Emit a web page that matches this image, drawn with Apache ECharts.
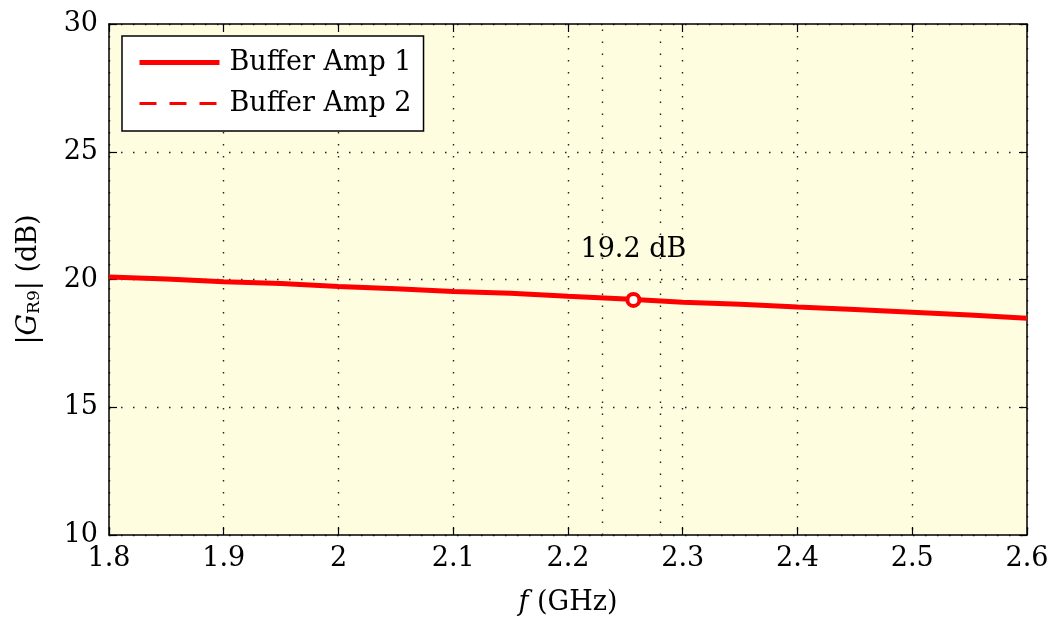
<!DOCTYPE html>
<html><head><meta charset="utf-8">
<script src="https://cdn.jsdelivr.net/npm/echarts@6/dist/echarts.min.js"></script>
<style>html,body{margin:0;padding:0;background:#fff}#c{width:1054px;height:621px}</style>
</head><body><div id="c"></div>
<script>
const freq = [1.80,1.85,1.90,1.95,2.00,2.05,2.10,2.15,2.20,2.25,2.30,2.35,2.40,2.45,2.50,2.55,2.60];
const amp1 = [20.10,20.02,19.91,19.84,19.73,19.64,19.53,19.46,19.34,19.24,19.11,19.03,18.92,18.83,18.72,18.61,18.48];
const amp2 = [20.09,20.03,19.92,19.83,19.74,19.65,19.54,19.45,19.35,19.25,19.12,19.04,18.93,18.84,18.73,18.62,18.49];
const marker = [2.257, 19.2];
const markerText = '19.2 dB';
const bandEdges = [2.2314, 2.2828];
const seriesNames = ['Buffer Amp 1', 'Buffer Amp 2'];

const FONT = '"DejaVu Serif", "Liberation Serif", serif';
const FS = 27;
const chart = echarts.init(document.getElementById('c'));
const pairs = (xs, ys) => xs.map((x, i) => [x, ys[i]]);
const grid = {left:109, right:27, top:24, bottom:86, backgroundColor:'#fffde0', show:true, borderWidth:0};
const dotted = {show:true, lineStyle:{color:'#222', width:1.4, type:[1.5, 10.5]}};

chart.setOption({
  animation:false,
  grid: grid,
  legend: {
    left:122, top:36, orient:'vertical', backgroundColor:'#fff', borderColor:'#000', borderWidth:1.5,
    padding:[13, 12, 14, 15], itemWidth:80, itemHeight:16, itemGap:14,
    itemStyle:{opacity:0},
    textStyle:{fontFamily:FONT, fontSize:FS, color:'#000', padding:[0,0,0,5]},
    data: [
      {name:seriesNames[0], lineStyle:{width:5, color:'#ff0000', type:'solid'}},
      {name:seriesNames[1], lineStyle:{width:3, color:'#ff0000', type:[17, 13]}}
    ]
  },
  xAxis: [{
    type:'value', min:1.8, max:2.6, interval:0.1,
    axisLine:{show:true, onZero:false, lineStyle:{color:'#000', width:1.5}},
    axisTick:{inside:true, length:8, lineStyle:{color:'#000', width:1.2}},
    axisLabel:{fontFamily:FONT, fontSize:FS, color:'#000', margin:10},
    splitLine: dotted,
    name:'{i|f} (GHz)', nameLocation:'middle', nameGap:54,
    nameTextStyle:{fontFamily:FONT, fontSize:FS, color:'#000', rich:{i:{fontFamily:FONT, fontStyle:'italic', fontSize:FS, color:'#000'}}}
  },{
    type:'value', position:'top', min:1.8, max:2.6, interval:0.1,
    axisLine:{show:true, onZero:false, lineStyle:{color:'#000', width:1.5}},
    axisTick:{inside:true, length:8, lineStyle:{color:'#000', width:1.2}},
    axisLabel:{show:false}, splitLine:{show:false}
  }],
  yAxis: [{
    type:'value', min:10, max:30, interval:5,
    axisLine:{show:true, onZero:false, lineStyle:{color:'#000', width:1.5}},
    axisTick:{inside:true, length:8, lineStyle:{color:'#000', width:1.2}},
    axisLabel:{fontFamily:FONT, fontSize:FS, color:'#000', margin:11},
    splitLine: dotted,
    name:'|{i|G}{s|R9}| (dB)', nameLocation:'middle', nameGap:66,
    nameTextStyle:{fontFamily:FONT, fontSize:FS, color:'#000', rich:{
      i:{fontFamily:FONT, fontStyle:'italic', fontSize:FS, color:'#000'},
      s:{fontFamily:FONT, fontSize:17, color:'#000', verticalAlign:'bottom', padding:[12,0,0,0]}}}
  },{
    type:'value', position:'right', min:10, max:30, interval:5,
    axisLine:{show:true, onZero:false, lineStyle:{color:'#000', width:1.5}},
    axisTick:{inside:true, length:8, lineStyle:{color:'#000', width:1.2}},
    axisLabel:{show:false}, splitLine:{show:false}
  }],
  series: [
    {name:seriesNames[0], type:'line', data:pairs(freq, amp1), symbol:'none', z:3,
     lineStyle:{color:'#ff0000', width:5}, itemStyle:{color:'#ff0000'},
     markLine:{silent:true, symbol:'none', label:{show:false},
       lineStyle:{color:'#222', width:1.4, type:[1.5, 10.5]},
       data: bandEdges.map(v => ({xAxis:v}))}},
    {name:seriesNames[1], type:'line', data:pairs(freq, amp2), symbol:'none', z:4,
     lineStyle:{color:'#ff0000', width:3, type:[12, 9]}, itemStyle:{color:'#ff0000'}},
    {type:'scatter', data:[marker], symbol:'circle', symbolSize:12, z:5,
     itemStyle:{color:'#fff', borderColor:'#ff0000', borderWidth:4, opacity:1},
     label:{show:true, position:'top', distance:28, formatter:markerText,
       fontFamily:FONT, fontSize:FS, color:'#000', textBorderWidth:0, opacity:1}}
  ]
});
</script></body></html>
